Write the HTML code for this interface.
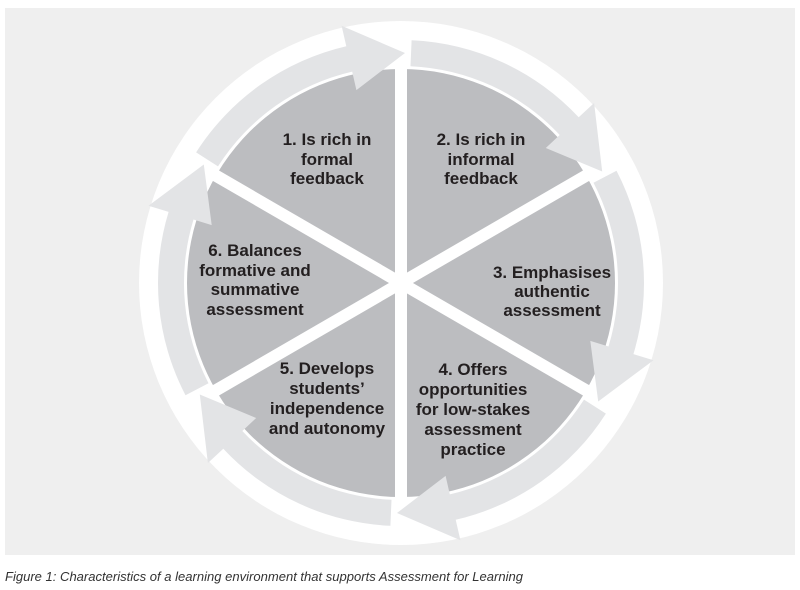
<!DOCTYPE html>
<html><head><meta charset="utf-8"><style>
html,body{margin:0;padding:0;background:#fff;}
svg{display:block;}
</style></head><body>
<svg width="800" height="590" viewBox="0 0 800 590" xmlns="http://www.w3.org/2000/svg">
<rect x="5" y="8" width="790" height="547" fill="#efefef"/>
<circle cx="401" cy="283" r="262" fill="#fff"/>
<circle cx="401" cy="283" r="214" fill="#bcbdc0"/>
<g stroke="#fff" stroke-width="12">
<line x1="401" y1="66" x2="401" y2="500"/>
<line x1="213" y1="392" x2="589" y2="174"/>
<line x1="213" y1="174" x2="589" y2="392"/>
</g>
<g fill="#e3e4e6">
<path d="M196.1,152.4 A243,243 0 0 1 346.3,46.2 L341.6,25.8 L405,53 L356.4,90.1 L352.2,71.6 A217,217 0 0 0 218,166.4 Z"/>
<path d="M411.6,40.2 A243,243 0 0 1 578.7,117.3 L594.1,103 L602.2,171.5 L545.8,148 L559.7,135 A217,217 0 0 0 410.5,66.2 Z"/>
<path d="M616.5,170.8 A243,243 0 0 1 633.4,354.1 L653.5,360.2 L598.2,401.5 L590.3,340.9 L608.5,346.5 A217,217 0 0 0 593.5,182.8 Z"/>
<path d="M605.9,413.6 A243,243 0 0 1 455.7,519.8 L460.4,540.2 L397,513 L445.6,475.9 L449.8,494.4 A217,217 0 0 0 584,399.6 Z"/>
<path d="M390.4,525.8 A243,243 0 0 1 223.3,448.7 L207.9,463 L199.8,394.5 L256.2,418 L242.3,431 A217,217 0 0 0 391.5,499.8 Z"/>
<path d="M185.5,395.2 A243,243 0 0 1 168.6,211.9 L148.5,205.8 L203.8,164.5 L211.7,225.1 L193.5,219.5 A217,217 0 0 0 208.5,383.2 Z"/>
</g>
<g font-family="'Liberation Sans', sans-serif" font-weight="bold" font-size="17" fill="#231f20" text-anchor="middle">
<text x="327" y="145">1. Is rich in</text>
<text x="327" y="165">formal</text>
<text x="327" y="184">feedback</text>
<text x="481" y="145">2. Is rich in</text>
<text x="481" y="165">informal</text>
<text x="481" y="184">feedback</text>
<text x="552" y="278">3. Emphasises</text>
<text x="552" y="297">authentic</text>
<text x="552" y="316">assessment</text>
<text x="473" y="375">4. Offers</text>
<text x="473" y="395">opportunities</text>
<text x="473" y="415">for low-stakes</text>
<text x="473" y="435">assessment</text>
<text x="473" y="455">practice</text>
<text x="327" y="374">5. Develops</text>
<text x="327" y="394">students’</text>
<text x="327" y="414">independence</text>
<text x="327" y="434">and autonomy</text>
<text x="255" y="256">6. Balances</text>
<text x="255" y="276">formative and</text>
<text x="255" y="295">summative</text>
<text x="255" y="315">assessment</text>
</g>
<text x="5" y="581" font-family="'Liberation Sans', sans-serif" font-style="italic" font-size="13" fill="#333" textLength="518" lengthAdjust="spacingAndGlyphs">Figure 1: Characteristics of a learning environment that supports Assessment for Learning</text>
</svg>
</body></html>
